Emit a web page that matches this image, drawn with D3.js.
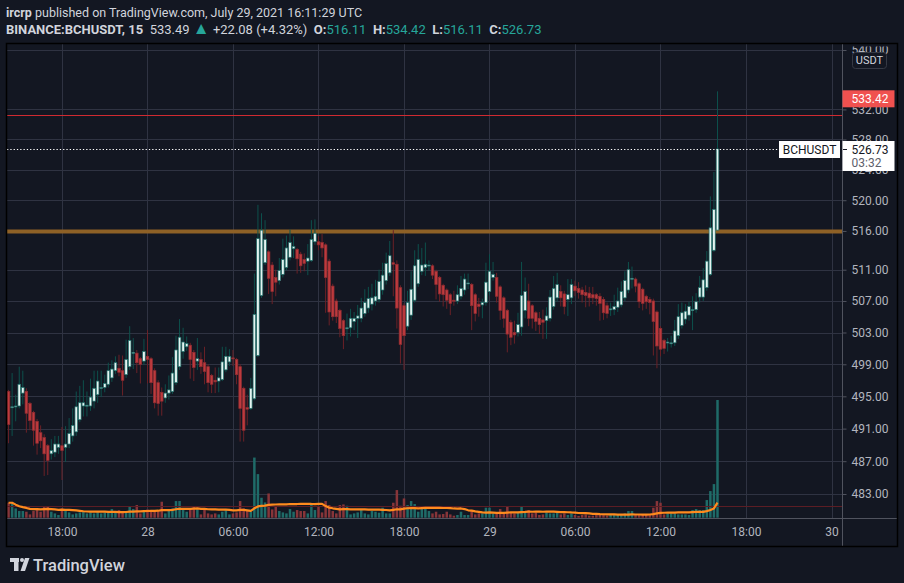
<!DOCTYPE html>
<html>
<head>
<meta charset="utf-8">
<script src="https://cdn.jsdelivr.net/npm/d3@7"></script>
<style>
  body { margin: 0; background: #131722; overflow: hidden; }
  svg text { font-family: Roboto, "Noto Sans", sans-serif; }
</style>
</head>
<body>
<svg id="chart"></svg>
<script>
// BINANCE:BCHUSDT, 15 minute bars, UTC
const firstBar = '2021-07-27T14:15:00Z';

const opens = [
  495.6, 493.6, 493.7, 493.8, 495.4, 495.6, 494.1, 493.0, 491.9, 490.5,
  489.9, 488.9, 487.9, 488.1, 488.7, 488.9, 488.7, 489.1, 490.1, 490.6,
  492.1, 493.8, 493.8, 493.8, 494.4, 495.2, 496.0, 496.1, 496.5, 497.3,
  498.2, 498.5, 498.2, 497.7, 498.7, 500.4, 500.4, 499.7, 499.4, 500.0,
  499.7, 498.2, 496.7, 495.5, 494.8, 495.4, 495.6, 496.7, 498.7, 500.6,
  501.2, 501.4, 500.5, 499.4, 499.6, 499.2, 498.7, 497.6, 497.0, 496.9,
  497.1, 498.3, 499.3, 499.8, 499.6, 498.7, 496.0, 493.6, 493.5, 494.7,
  500.1, 507.7, 511.9, 513.3, 511.6, 510.0, 509.6, 510.4, 511.3, 512.6,
  513.7, 513.6, 513.0, 512.3, 512.1, 512.2, 514.6, 514.6, 514.5, 514.2,
  512.1, 508.9, 507.0, 505.8, 504.5, 503.6, 503.6, 504.4, 504.8, 504.8,
  505.4, 506.1, 506.6, 507.0, 507.2, 508.4, 509.6, 510.6, 511.9, 511.7,
  508.7, 506.4, 503.8, 505.2, 507.1, 509.2, 510.8, 511.3, 511.5, 511.5,
  510.8, 510.0, 509.0, 508.4, 507.8, 507.1, 507.0, 507.6, 508.4, 509.2,
  509.1, 507.8, 506.6, 506.5, 506.8, 508.2, 510.0, 510.0, 508.8, 507.4,
  505.8, 504.3, 503.0, 503.0, 503.7, 505.8, 507.0, 506.4, 505.5, 504.8,
  504.6, 504.5, 504.8, 506.3, 507.4, 508.2, 507.9, 507.2, 507.4, 508.9,
  508.6, 508.4, 508.1, 508.0, 507.8, 507.8, 507.6, 507.2, 506.4, 505.95,
  505.9, 506.2, 506.5, 507.4, 508.4, 509.8, 509.8, 509.2, 508.5, 507.6,
  507.2, 507.0, 505.6, 503.5, 502.0, 501.7, 501.6, 501.7, 502.6, 503.9,
  504.7, 505.2, 505.8, 505.9, 507.5, 507.5, 508.7, 510.4, 513.5, 516.11
];
const highs = [
  495.8, 497.9, 495.2, 498.7, 498.2, 496.0, 494.3, 493.2, 492.2, 491.4,
  490.3, 489.1, 489.7, 490.1, 490.1, 491.2, 491.3, 492.3, 493.5, 495.6,
  496.3, 497.0, 495.6, 497.2, 498.2, 498.2, 498.2, 497.7, 499.2, 499.5,
  500.0, 500.2, 500.1, 502.1, 503.8, 502.3, 500.8, 499.9, 502.2, 503.3,
  499.9, 498.5, 497.0, 496.1, 496.5, 497.6, 499.9, 502.6, 504.7, 503.6,
  502.5, 501.7, 500.8, 502.3, 500.5, 501.2, 499.0, 497.8, 498.6, 498.6,
  501.2, 501.2, 500.9, 500.8, 499.8, 499.0, 496.2, 495.2, 497.3, 510.5,
  519.4, 518.3, 517.4, 513.5, 512.0, 511.0, 512.5, 515.0, 515.4, 516.2,
  515.3, 513.8, 513.3, 513.1, 514.3, 517.4, 517.5, 515.3, 515.6, 514.4,
  512.4, 509.2, 507.3, 506.0, 504.7, 505.4, 506.0, 505.6, 506.5, 507.4,
  508.5, 508.8, 509.2, 509.7, 511.0, 511.9, 513.2, 514.7, 516.1, 512.2,
  509.0, 506.7, 508.3, 510.8, 513.5, 514.3, 513.8, 514.5, 512.2, 511.7,
  511.0, 510.2, 509.2, 508.6, 508.0, 508.3, 509.0, 510.2, 510.5, 510.5,
  509.3, 508.0, 507.4, 507.3, 511.9, 513.0, 512.0, 510.6, 509.0, 507.6,
  506.0, 504.6, 504.5, 505.5, 512.0, 510.0, 509.2, 506.6, 505.7, 505.6,
  505.9, 506.2, 508.4, 510.2, 510.6, 509.0, 508.3, 509.8, 509.8, 509.6,
  509.4, 508.8, 509.0, 508.8, 508.8, 508.0, 508.0, 507.5, 506.8, 506.8,
  507.8, 508.7, 509.5, 510.8, 512.0, 511.4, 510.0, 509.4, 508.7, 507.8,
  507.5, 507.3, 505.8, 503.8, 502.2, 502.3, 502.6, 504.6, 506.6, 506.8,
  506.6, 506.9, 507.6, 508.0, 510.2, 511.2, 513.4, 520.5, 523.7, 534.42
];
const lows = [
  489.2, 490.1, 491.9, 493.5, 494.0, 490.5, 490.8, 488.9, 487.8, 488.6,
  485.2, 485.3, 487.2, 487.5, 487.9, 484.7, 486.9, 488.6, 489.4, 490.1,
  491.8, 492.5, 492.5, 493.2, 493.5, 494.2, 494.9, 495.5, 496.1, 496.8,
  497.8, 497.5, 495.1, 497.3, 498.3, 498.4, 497.9, 496.6, 498.9, 496.6,
  495.3, 493.5, 492.6, 492.6, 494.2, 494.6, 495.3, 496.4, 498.3, 499.7,
  500.7, 497.2, 496.9, 498.3, 497.8, 496.5, 495.5, 495.4, 495.4, 495.5,
  496.9, 498.0, 498.8, 498.8, 496.5, 489.4, 489.4, 491.4, 493.3, 494.5,
  499.9, 507.4, 511.6, 507.9, 506.6, 507.6, 509.1, 510.0, 510.9, 512.2,
  512.5, 510.5, 510.6, 510.8, 510.3, 512.0, 514.2, 513.5, 512.6, 505.5,
  503.9, 504.5, 504.2, 502.4, 500.9, 502.0, 502.5, 503.3, 502.3, 504.3,
  505.0, 505.5, 505.8, 506.4, 506.8, 507.8, 509.1, 510.2, 507.6, 503.5,
  499.1, 498.3, 503.3, 504.6, 506.8, 508.8, 510.3, 510.2, 510.9, 509.8,
  507.2, 506.9, 506.3, 506.0, 505.2, 506.4, 506.6, 507.2, 507.8, 508.5,
  503.3, 504.4, 505.0, 504.8, 506.4, 507.7, 509.6, 506.8, 504.6, 503.6,
  500.5, 501.4, 501.6, 502.5, 502.6, 504.8, 503.8, 503.5, 503.2, 502.8,
  502.2, 502.2, 504.4, 505.9, 506.9, 506.3, 505.3, 505.1, 506.6, 507.6,
  507.3, 506.8, 506.2, 506.3, 506.6, 506.4, 504.5, 504.6, 504.8, 505.1,
  505.2, 505.6, 506.2, 507.0, 508.0, 508.6, 508.1, 506.1, 505.8, 506.0,
  505.3, 500.1, 498.5, 500.0, 500.3, 500.6, 501.1, 501.3, 502.2, 503.5,
  504.1, 504.5, 503.3, 505.5, 506.8, 507.0, 508.3, 510.2, 513.3, 516.11
];
const closes = [
  491.5, 493.7, 493.8, 496.5, 496.1, 492.9, 492.0, 490.8, 489.2, 489.5,
  487.9, 487.1, 488.3, 489.1, 489.1, 488.3, 489.1, 490.4, 491.4, 493.7,
  494.2, 494.2, 493.9, 494.9, 496.0, 496.9, 496.1, 496.6, 498.2, 498.4,
  499.2, 498.0, 497.0, 499.6, 502.0, 500.5, 499.2, 499.0, 500.6, 499.6,
  496.7, 494.2, 494.1, 494.4, 495.4, 495.8, 497.9, 500.8, 502.4, 501.8,
  501.6, 499.6, 498.6, 499.7, 498.7, 498.1, 496.7, 496.5, 496.8, 497.3,
  499.3, 500.0, 500.0, 499.7, 497.7, 493.5, 490.8, 493.4, 496.0, 505.3,
  515.0, 516.1, 514.9, 509.9, 508.2, 509.4, 510.9, 512.3, 513.8, 514.5,
  514.0, 512.4, 511.5, 511.8, 512.5, 514.9, 515.7, 514.2, 513.8, 510.0,
  505.6, 505.0, 505.0, 503.5, 502.6, 503.6, 504.8, 504.8, 505.1, 506.1,
  506.8, 507.3, 507.4, 507.6, 509.5, 510.3, 511.8, 512.8, 511.7, 506.1,
  501.5, 502.6, 506.8, 508.5, 511.5, 512.3, 511.6, 511.7, 511.6, 510.3,
  509.1, 507.9, 507.8, 507.1, 506.7, 507.0, 507.8, 508.6, 509.8, 509.3,
  506.4, 505.4, 506.3, 506.8, 509.4, 510.8, 510.4, 507.6, 505.8, 504.8,
  502.8, 502.4, 502.7, 504.0, 507.7, 508.2, 504.8, 504.8, 504.4, 504.0,
  504.3, 505.1, 507.5, 508.6, 509.1, 507.4, 506.3, 507.8, 509.1, 508.3,
  508.1, 507.8, 507.7, 507.4, 507.4, 507.3, 506.7, 505.5, 505.4, 506.0,
  506.3, 507.0, 508.2, 509.6, 511.0, 509.9, 508.9, 506.9, 506.7, 506.9,
  506.8, 504.4, 501.3, 500.9, 501.0, 501.8, 501.7, 503.2, 505.0, 505.5,
  505.7, 506.3, 505.9, 506.9, 508.7, 509.7, 512.1, 516.4, 518.8, 526.73
];
const volumes = [
  1500, 1500, 930, 670, 670, 600, 330, 670, 930, 600,
  1100, 1100, 600, 430, 270, 930, 670, 530, 330, 430,
  530, 600, 430, 530, 430, 600, 430, 530, 600, 870,
  670, 770, 670, 600, 1170, 870, 1270, 430, 600, 830,
  600, 770, 770, 1600, 430, 770, 930, 1670, 1670, 770,
  600, 870, 1100, 870, 330, 870, 430, 330, 430, 330,
  600, 770, 330, 430, 530, 1670, 930, 770, 600, 6030,
  4370, 2000, 1530, 2430, 830, 1100, 670, 530, 430, 870,
  600, 770, 670, 670, 430, 1330, 770, 1100, 530, 1670,
  1270, 670, 430, 1270, 1330, 1200, 330, 430, 530, 770,
  430, 330, 670, 600, 500, 1000, 430, 430, 1500, 2770,
  1200, 1930, 1270, 1670, 1370, 600, 870, 930, 670, 430,
  600, 330, 370, 600, 330, 200, 270, 600, 270, 270,
  670, 330, 430, 430, 1000, 1000, 430, 430, 870, 430,
  1100, 530, 430, 530, 1100, 530, 770, 430, 530, 270,
  330, 530, 430, 430, 670, 330, 430, 270, 430, 270,
  170, 270, 330, 200, 200, 270, 270, 330, 200, 270,
  270, 270, 330, 430, 670, 670, 330, 270, 270, 270,
  330, 1000, 1670, 1500, 330, 430, 430, 430, 330, 330,
  330, 270, 770, 870, 770, 770, 1770, 2670, 3370, 11800
];

const priceTicks = [483, 487, 491, 495, 499, 503, 507, 511, 516, 520, 524, 528, 532, 540];
const timeTicks = [
  '2021-07-27T18:00:00Z', '2021-07-28T00:00:00Z', '2021-07-28T06:00:00Z', '2021-07-28T12:00:00Z',
  '2021-07-28T18:00:00Z', '2021-07-29T00:00:00Z', '2021-07-29T06:00:00Z', '2021-07-29T12:00:00Z',
  '2021-07-29T18:00:00Z', '2021-07-30T00:00:00Z'
];
// drawn horizontal levels: resistance, breakout, support
const levelPrices = [531.2, 516, 481.6];
const lastPrice = 526.73;
const alertPrice = 533.42;
const volumeMaLength = 20;

// ---------------------------------------------------------------
const W = 904, H = 583;
const frame = {left: 7, right: 897, top: 44, bottom: 546};
const plot = {left: 7, right: 842, top: 44, bottom: 518};
const barMs = 15 * 60 * 1000;

const upBody = '#e4f3f0', upBorder = '#1f6f6a', upWick = '#0d504c';
const dnBody = '#bd3a3d', dnBorder = '#8e2d32', dnWick = '#6b2127';
const upVol = '#1f6b68', dnVol = '#873539';
const gridColor = '#2f3342';
const textColor = '#b2b5be';

const t0 = new Date(firstBar);
const bars = closes.map((c, i) => ({
  t: new Date(t0.getTime() + i * barMs),
  o: opens[i], h: highs[i], l: lows[i], c: c, v: volumes[i]
}));

// volume moving average (same as TradingView's Volume MA)
bars.forEach((d, i) => {
  const win = volumes.slice(Math.max(0, i - volumeMaLength + 1), i + 1);
  d.ma = d3.mean(win);
});

const svg = d3.select('#chart').attr('width', W).attr('height', H);

svg.append('rect').attr('width', W).attr('height', H).attr('fill', '#131722');

const x = d3.scaleUtc()
    .domain([t0, new Date('2021-07-30T00:00:00Z')])
    .range([8.56, 831.5]);
const y = d3.scaleLog()
    .domain([483, 540])
    .range([494, 50]);
const yVol = d3.scaleLinear()
    .domain([0, d3.max(volumes)])
    .range([517.7, 400]);

const defs = svg.append('defs');
defs.append('clipPath').attr('id', 'plotClip')
  .append('rect')
    .attr('x', plot.left).attr('y', plot.top)
    .attr('width', plot.right - plot.left).attr('height', plot.bottom - plot.top);
defs.append('clipPath').attr('id', 'axisClip')
  .append('rect')
    .attr('x', plot.right).attr('y', frame.top + 2.5)
    .attr('width', frame.right - plot.right).attr('height', plot.bottom - frame.top);

// Grid
const grid = svg.append('g').attr('clip-path', 'url(#plotClip)');
grid.selectAll('.hgrid')
    .data(priceTicks)
  .join('line')
    .attr('class', 'hgrid')
    .attr('x1', plot.left).attr('x2', plot.right)
    .attr('y1', d => Math.round(y(d)) + 0.5).attr('y2', d => Math.round(y(d)) + 0.5)
    .attr('stroke', gridColor);
grid.selectAll('.vgrid')
    .data(timeTicks.map(d => new Date(d)))
  .join('line')
    .attr('class', 'vgrid')
    .attr('x1', d => Math.round(x(d)) + 0.5).attr('x2', d => Math.round(x(d)) + 0.5)
    .attr('y1', plot.top).attr('y2', plot.bottom)
    .attr('stroke', gridColor);

const chart = svg.append('g').attr('clip-path', 'url(#plotClip)');

// Volume bars
chart.selectAll('.vol')
    .data(bars)
  .join('rect')
    .attr('class', 'vol')
    .attr('x', d => x(d.t) - 1.25)
    .attr('width', 2.5)
    .attr('y', d => yVol(d.v))
    .attr('height', d => yVol(0) - yVol(d.v))
    .attr('fill', d => d.c >= d.o ? upVol : dnVol);

// Horizontal levels
const levelStyle = [
  {stroke: '#d02a31', width: 1.2},
  {stroke: '#8e6126', width: 4},
  {stroke: '#5c1d24', width: 1}
];
chart.selectAll('.level')
    .data(levelPrices)
  .join('line')
    .attr('class', 'level')
    .attr('x1', plot.left).attr('x2', plot.right)
    .attr('y1', d => Math.round(y(d)) + 0.5).attr('y2', d => Math.round(y(d)) + 0.5)
    .attr('stroke', (d, i) => levelStyle[i].stroke)
    .attr('stroke-width', (d, i) => levelStyle[i].width);

// Volume MA
chart.append('path')
    .datum(bars)
    .attr('fill', 'none')
    .attr('stroke', '#ff8b1e')
    .attr('stroke-width', 2.2)
    .attr('stroke-linejoin', 'round')
    .attr('d', d3.line().x(d => x(d.t)).y(d => yVol(d.ma)));

// Candles
const candle = chart.selectAll('.candle')
    .data(bars)
  .join('g')
    .attr('class', 'candle');
candle.append('line')
    .attr('x1', d => x(d.t)).attr('x2', d => x(d.t))
    .attr('y1', d => y(d.h)).attr('y2', d => y(d.l))
    .attr('stroke', d => d.c >= d.o ? upWick : dnWick)
    .attr('stroke-width', 1);
candle.append('rect')
    .attr('x', d => x(d.t) - 1.3)
    .attr('width', 2.6)
    .attr('y', d => y(Math.max(d.o, d.c)))
    .attr('height', d => Math.max(1, y(Math.min(d.o, d.c)) - y(Math.max(d.o, d.c))))
    .attr('fill', d => d.c >= d.o ? upBody : dnBody)
    .attr('stroke', d => d.c >= d.o ? upBorder : dnBorder)
    .attr('stroke-width', 0.7);

// Last price dotted line
chart.append('line')
    .attr('x1', plot.left).attr('x2', 779)
    .attr('y1', Math.round(y(lastPrice)) + 0.5).attr('y2', Math.round(y(lastPrice)) + 0.5)
    .attr('stroke', '#ffffff')
    .attr('stroke-dasharray', '1.3 2');

// Separators and frame
svg.append('line')
    .attr('x1', frame.left).attr('x2', frame.right)
    .attr('y1', plot.bottom + 0.5).attr('y2', plot.bottom + 0.5)
    .attr('stroke', '#50535e');
svg.append('line')
    .attr('x1', plot.right + 0.5).attr('x2', plot.right + 0.5)
    .attr('y1', frame.top).attr('y2', frame.bottom)
    .attr('stroke', '#50535e');
svg.append('rect')
    .attr('x', frame.left - 0.5).attr('y', frame.top - 0.5)
    .attr('width', frame.right - frame.left + 1).attr('height', frame.bottom - frame.top + 1)
    .attr('fill', 'none')
    .attr('stroke', '#000')
    .attr('stroke-width', 1.5);

// Price axis (outer group carries the clip so it is in page coordinates)
const yAxis = d3.axisRight(y)
    .tickValues(priceTicks)
    .tickFormat(d3.format('.2f'))
    .tickSize(4)
    .tickPadding(5);
const yAxisG = svg.append('g')
    .attr('clip-path', 'url(#axisClip)')
  .append('g')
    .attr('transform', `translate(${plot.right + 0.5},0)`)
    .call(yAxis)
    .call(g => g.select('.domain').remove());
yAxisG.selectAll('line').attr('stroke', '#50535e');
yAxisG.selectAll('text')
    .attr('fill', textColor)
    .style('font-size', '12px');

// Time axis
const fmtHM = d3.utcFormat('%H:%M');
const xAxis = d3.axisBottom(x)
    .tickValues(timeTicks.map(d => new Date(d)))
    .tickFormat(d => d.getUTCHours() === 0 ? d.getUTCDate() : fmtHM(d))
    .tickSize(0)
    .tickPadding(9);
const xAxisG = svg.append('g')
    .attr('transform', `translate(0,${plot.bottom})`)
    .call(xAxis)
    .call(g => g.select('.domain').remove());
xAxisG.selectAll('text')
    .attr('fill', textColor)
    .style('font-size', '12px');

// Alert label (red)
svg.append('rect')
    .attr('x', plot.right + 0.5).attr('y', y(alertPrice) - 8.5)
    .attr('width', 52).attr('height', 17)
    .attr('fill', '#f0514f');
svg.append('text')
    .attr('x', plot.right + 9.5).attr('y', y(alertPrice))
    .attr('dy', '0.35em')
    .attr('fill', '#ffffff')
    .style('font-size', '12px')
    .text(d3.format('.2f')(alertPrice));

// Last price labels
const ly = Math.round(y(lastPrice));
svg.append('rect')
    .attr('x', 779).attr('y', ly - 8)
    .attr('width', 61).attr('height', 17)
    .attr('fill', '#ffffff');
svg.append('text')
    .attr('x', 809.5).attr('y', ly + 0.5)
    .attr('dy', '0.35em')
    .attr('text-anchor', 'middle')
    .attr('fill', '#131722')
    .style('font-size', '12px')
    .text('BCHUSDT');
svg.append('rect')
    .attr('x', plot.right + 0.5).attr('y', ly - 8)
    .attr('width', 52).attr('height', 30)
    .attr('fill', '#ffffff');
svg.append('line')
    .attr('x1', plot.right + 1).attr('x2', plot.right + 5)
    .attr('y1', ly + 0.5).attr('y2', ly + 0.5)
    .attr('stroke', '#131722');
svg.append('text')
    .attr('x', plot.right + 9.5).attr('y', ly + 0.5)
    .attr('dy', '0.35em')
    .attr('fill', '#131722')
    .style('font-size', '12px')
    .text(d3.format('.2f')(lastPrice));
svg.append('text')
    .attr('x', plot.right + 9.5).attr('y', ly + 14)
    .attr('dy', '0.35em')
    .attr('fill', '#5d606b')
    .style('font-size', '12px')
    .text('03:32');

// Currency button
svg.append('rect')
    .attr('x', 852.5).attr('y', 52.5)
    .attr('width', 34).attr('height', 16).attr('rx', 3)
    .attr('fill', '#131722')
    .attr('stroke', '#363a45');
svg.append('text')
    .attr('x', 869.5).attr('y', 60.5)
    .attr('dy', '0.35em')
    .attr('text-anchor', 'middle')
    .attr('fill', '#d1d4dc')
    .style('font-size', '11px')
    .text('USDT');

// Header
const teal = '#26a69a';
const fmt2 = d3.format('.2f');
const head1 = svg.append('text')
    .attr('x', 6).attr('y', 17)
    .attr('fill', '#d1d4dc')
    .style('font-size', '12.5px');
head1.append('tspan').attr('font-weight', 'bold').text('ircrp');
head1.append('tspan').text(' published on TradingView.com, July 29, 2021 16:11:29 UTC');

const head2 = svg.append('text')
    .attr('x', 6).attr('y', 34)
    .attr('fill', '#d1d4dc')
    .style('font-size', '13px')
    .attr('xml:space', 'preserve');
head2.append('tspan').attr('font-weight', 'bold').text('BINANCE:BCHUSDT, 15');
head2.append('tspan').text('  533.49 ');
head2.append('tspan').attr('fill', teal).style('font-size', '17px').text('▲');
head2.append('tspan').text(' +22.08 (+4.32%) ');
[['O:', opens[199]], ['H:', highs[199]], ['L:', lows[199]], ['C:', closes[199]]].forEach(([k, v], i) => {
  head2.append('tspan').attr('font-weight', 'bold').text((i ? '  ' : ' ') + k);
  head2.append('tspan').attr('fill', teal).text(fmt2(v));
});

// TradingView logo
const logo = svg.append('g').attr('fill', '#d1d4dc');
logo.append('rect').attr('x', 10).attr('y', 558).attr('width', 9).attr('height', 4);
logo.append('rect').attr('x', 14).attr('y', 558).attr('width', 4.5).attr('height', 13);
logo.append('circle').attr('cx', 22).attr('cy', 560).attr('r', 2);
logo.append('path').attr('d', 'M25,558 L29.5,558 L25,571 L20.5,571 Z');
svg.append('text')
    .attr('x', 33).attr('y', 570.5)
    .attr('fill', '#d1d4dc')
    .style('font-size', '16.5px')
    .style('font-weight', '500')
    .text('TradingView');
</script>
</body>
</html>
